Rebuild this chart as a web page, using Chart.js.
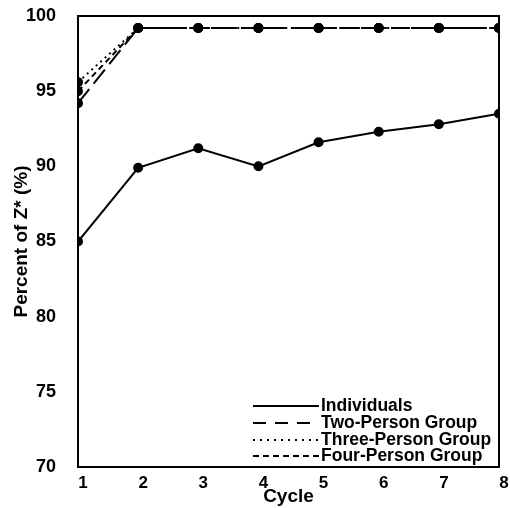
<!DOCTYPE html>
<html>
<head>
<meta charset="utf-8">
<script src="https://cdn.jsdelivr.net/npm/chart.js@4/dist/chart.umd.min.js"></script>
<style>
  html, body { margin: 0; padding: 0; background: #fff; }
  #wrap { width: 510px; height: 508px; }
</style>
</head>
<body>
<div id="wrap"><canvas id="chart" width="510" height="508"></canvas></div>
<script>
const cycles = [1, 2, 3, 4, 5, 6, 7, 8];
const individuals = [85.0, 89.9, 91.2, 90.0, 91.6, 92.3, 92.8, 93.5];
const twoPerson = [94.2, 99.2, 99.2, 99.2, 99.2, 99.2, 99.2, 99.2];
const threePerson = [95.6, 99.2, 99.2, 99.2, 99.2, 99.2, 99.2, 99.2];
const fourPerson = [95.0, 99.2, 99.2, 99.2, 99.2, 99.2, 99.2, 99.2];
const seriesNames = ["Individuals", "Two-Person Group", "Three-Person Group", "Four-Person Group"];

const font = "'Liberation Sans', Arial, sans-serif";

function series(label, values, dash, legendDash) {
  return {
    label,
    data: values.map((v, i) => ({ x: cycles[i], y: v })),
    borderColor: "#000",
    backgroundColor: "#000",
    borderWidth: 2,
    borderDash: dash,
    legendDash,
    pointRadius: 4,
    pointHoverRadius: 4,
    tension: 0,
  };
}

// frame around plot + legend in the lower right corner
const framePlugin = {
  id: "frame",
  afterDatasetsDraw(chart) {
    const { ctx, chartArea } = chart;
    ctx.save();
    ctx.strokeStyle = "#000";
    ctx.lineWidth = 2;
    ctx.strokeRect(chartArea.left, chartArea.top, chartArea.right - chartArea.left, chartArea.bottom - chartArea.top);

    const x0 = 253, x1 = 319;
    const rows = [406, 423, 440, 456];
    ctx.font = "bold 17.5px " + font;
    ctx.textBaseline = "middle";
    ctx.fillStyle = "#000";
    chart.data.datasets.forEach((ds, i) => {
      ctx.beginPath();
      ctx.setLineDash(ds.legendDash);
      ctx.lineWidth = 2;
      ctx.moveTo(x0, rows[i]);
      ctx.lineTo(x1, rows[i]);
      ctx.stroke();
      ctx.setLineDash([]);
      ctx.fillText(ds.label, x1 + 2, rows[i]);
    });
    ctx.restore();
  },
};

new Chart(document.getElementById("chart"), {
  type: "line",
  data: {
    datasets: [
      series(seriesNames[0], individuals, [], []),
      series(seriesNames[1], twoPerson, [18, 7], [13, 9]),
      series(seriesNames[2], threePerson, [2, 4], [2, 5]),
      series(seriesNames[3], fourPerson, [6, 4], [6, 4]),
    ],
  },
  options: {
    responsive: false,
    animation: false,
    layout: { padding: { top: 16, right: 11, left: 0, bottom: 0 } },
    plugins: {
      legend: { display: false },
      tooltip: { enabled: false },
    },
    scales: {
      x: {
        type: "linear",
        min: 1,
        max: 8,
        afterFit(scale) {
          scale.height = 41;
          scale.paddingLeft = 0;
          scale.paddingRight = 0;
        },
        grid: { display: false, drawTicks: false },
        border: { display: false },
        ticks: {
          stepSize: 1,
          padding: 6,
          labelOffset: 5,
          color: "#000",
          font: { family: font, size: 17, weight: "bold" },
        },
        title: {
          display: true,
          text: "Cycle",
          color: "#000",
          padding: { top: 0, bottom: 0 },
          font: { family: font, size: 19, weight: "bold" },
        },
      },
      y: {
        min: 70,
        max: 100,
        afterFit(scale) {
          scale.width = 78;
          scale.paddingTop = 0;
          scale.paddingBottom = 0;
        },
        grid: { display: false, drawTicks: false },
        border: { display: false },
        ticks: {
          stepSize: 5,
          padding: 22,
          color: "#000",
          font: { family: font, size: 18, weight: "bold" },
        },
        title: {
          display: true,
          text: "Percent of Z* (%)",
          color: "#000",
          padding: { top: 10, bottom: 0 },
          font: { family: font, size: 19, weight: "bold" },
        },
      },
    },
  },
  plugins: [framePlugin],
});
</script>
</body>
</html>
